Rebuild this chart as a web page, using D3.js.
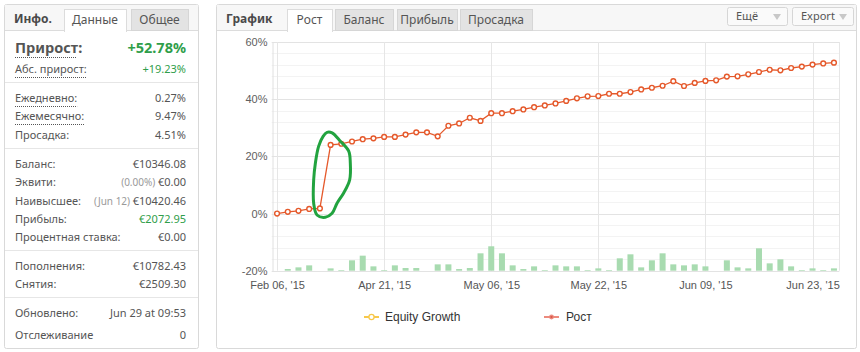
<!DOCTYPE html>
<html>
<head>
<meta charset="utf-8">
<script src="https://cdn.jsdelivr.net/npm/d3@7"></script>
<style>
  body { margin: 0; background: #fff; }
  svg { display: block; }
</style>
</head>
<body>
<div id="chart"></div>
<script>
// info panel rows
var infoLabels = ["Абс. прирост:", "Ежедневно:", "Ежемесячно:", "Просадка:", "Баланс:", "Эквити:",
  "Наивысшее:", "Прибыль:", "Процентная ставка:", "Пополнения:", "Снятия:", "Обновлено:", "Отслеживание"]
var infoNotes = ["", "", "", "", "", "(0.00%) ", "(Jun 12) ", "", "", "", "", "", ""]
var infoValues = ["+19.23%", "0.27%", "9.47%", "4.51%", "€10346.08", "€0.00",
  "€10420.46", "€2072.95", "€0.00", "€10782.43", "€2509.30", "Jun 29 at 09:53", "0"]

// chart series (one point per category, x axis is by index)
var growth = [0, 0.6, 0.95, 1.6, 1.8, 24.0, 24.4, 25.2, 26.0, 26.3,
  26.8, 26.8, 27.6, 28.4, 28.4, 27.0, 30.7, 31.5, 33.5, 32.4,
  35.1, 35.1, 35.8, 36.4, 37.2, 37.8, 38.5, 39.4, 40.3, 41.0,
  41.1, 41.9, 41.9, 42.5, 43.4, 44.0, 44.7, 46.3, 44.6, 45.7,
  46.4, 46.6, 47.9, 48.0, 48.7, 49.5, 50.3, 50.1, 50.9, 51.4,
  52.1, 52.5, 52.78]
var daily = [0, 0.59, 1.17, 1.87, 0, 0.82, 0.23, 3.63, 5.26, 1.52,
  0.23, 1.87, 0.94, 0.94, 0, 2.22, 2.22, 0.58, 0.94, 6.08,
  8.54, 6.08, 1.87, 0.58, 1.52, 0.23, 1.87, 1.52, 1.52, 0.23,
  0.82, 0.23, 4.33, 5.73, 1.17, 3.63, 6.08, 2.22, 1.87, 2.22,
  1.52, 0, 3.63, 1.17, 0.82, 7.84, 2.57, 3.98, 1.52, 0.23,
  0.82, 0.23, 0.82]
var tickIndex = [0, 10, 20, 30, 40, 50]
var tickText = ["Feb 06, '15", "Apr 21, '15", "May 06, '15", "May 22, '15", "Jun 09, '15", "Jun 23, '15"]
var yTicks = [-20, 0, 20, 40, 60]

// hand drawn highlight loop, in chart units (index, %)
var loopX = [4.67, 5.14, 5.91, 6.69, 6.84, 6.78, 6.22, 5.60, 5.14, 4.51, 3.73, 3.42, 3.42, 3.58, 3.88, 4.30]
var loopY = [28.4, 28.2, 25.3, 21.8, 17.7, 11.8, 7.2, 3.6, 0.1, -1.3, -0.5, 3.6, 11.8, 17.7, 23.5, 27.0]

var W = 860, H = 352
var uiFont = "'Noto Sans', sans-serif"
var chartFont = "'Liberation Sans', Arial, sans-serif"

var svg = d3.select("#chart").append("svg")
  .attr("width", W).attr("height", H)

// ---------- panels ----------
function panel(x, w, title, tabs, tabX, tabW) {
  var g = svg.append("g")
  g.append("rect").attr("x", x + 0.5).attr("y", 4.5).attr("width", w).attr("height", 344)
    .attr("fill", "#fff").attr("stroke", "#d9d9d9").attr("rx", 2)
  g.append("rect").attr("x", x + 1).attr("y", 5).attr("width", w - 1).attr("height", 25)
    .attr("fill", "#f7f7f7")
  g.append("line").attr("x1", x + 1).attr("x2", x + w).attr("y1", 30.5).attr("y2", 30.5)
    .attr("stroke", "#dcdcdc")
  g.append("text").attr("x", x + 10).attr("y", 23).text(title)
    .attr("font-family", uiFont).attr("font-size", 12).attr("font-weight", "bold").attr("fill", "#4a4a4a")
  tabs.forEach(function (t, i) {
    var active = i == 0
    g.append("rect").attr("x", tabX[i] + 0.5).attr("y", 9.5).attr("width", tabW[i]).attr("height", active ? 22 : 21)
      .attr("fill", active ? "#fff" : "#e3e3e3").attr("stroke", active ? "#dcdcdc" : "#d6d6d6")
    g.append("text").attr("x", tabX[i] + tabW[i] / 2).attr("y", 24).text(t)
      .attr("text-anchor", "middle").attr("font-family", uiFont).attr("font-size", 12).attr("fill", "#555")
  })
  // hide the border below the active tab
  g.append("rect").attr("x", tabX[0] + 1).attr("y", 30).attr("width", tabW[0] - 1).attr("height", 2).attr("fill", "#fff")
  return g
}

var left = panel(4, 194, "Инфо.", ["Данные", "Общее"], [64, 131], [62, 57])
var right = panel(216, 640, "График", ["Рост", "Баланс", "Прибыль", "Просадка"], [287, 335, 397, 460], [45, 58, 60, 72])

// buttons
var buttons = ["Ещё", "Export"], btnX = [727, 792], btnW = [60, 61]
buttons.forEach(function (b, i) {
  right.append("rect").attr("x", btnX[i] + 0.5).attr("y", 7.5).attr("width", btnW[i]).attr("height", 18)
    .attr("fill", "#fafafa").attr("stroke", "#d6d6d6").attr("rx", 2)
  right.append("text").attr("x", btnX[i] + 9).attr("y", 20).text(b)
    .attr("font-family", uiFont).attr("font-size", 11).attr("fill", "#555")
  var ax = btnX[i] + btnW[i] - 14
  right.append("path").attr("d", "M" + ax + ",14L" + (ax + 8) + ",14L" + (ax + 4) + ",20Z").attr("fill", "#c8c8c8")
})

// ---------- info rows ----------
left.append("text").attr("x", 15).attr("y", 53).text("Прирост:")
  .attr("font-family", uiFont).attr("font-size", 14.5).attr("font-weight", "bold").attr("fill", "#555")
left.append("text").attr("x", 186).attr("y", 53).text("+52.78%").attr("text-anchor", "end")
  .attr("font-family", uiFont).attr("font-size", 14.5).attr("font-weight", "bold").attr("fill", "#2f9e4a")
left.append("line").attr("x1", 15).attr("x2", 76).attr("y1", 57.5).attr("y2", 57.5)
  .attr("stroke", "#555").attr("stroke-dasharray", "1,1")

var rowY = [73, 102, 120, 139, 168, 186, 205, 223, 241, 270, 288, 317, 339]
var greenRows = [0, 7]
var dotted = [0, 1, 2]
infoLabels.forEach(function (l, i) {
  var t = left.append("text").attr("x", 15).attr("y", rowY[i]).text(l)
    .attr("font-family", uiFont).attr("font-size", 11).attr("fill", "#555")
  if (dotted.indexOf(i) >= 0) {
    var w = t.node().getComputedTextLength()
    left.append("line").attr("x1", 15).attr("x2", 15 + w).attr("y1", rowY[i] + 4.5).attr("y2", rowY[i] + 4.5)
      .attr("stroke", "#555").attr("stroke-dasharray", "1,1")
  }
  var v = left.append("text").attr("x", 186).attr("y", rowY[i]).attr("text-anchor", "end")
    .attr("font-family", uiFont).attr("font-size", 11)
  if (infoNotes[i]) v.append("tspan").attr("fill", "#999").attr("font-size", 10).text(infoNotes[i])
  v.append("tspan").attr("fill", greenRows.indexOf(i) >= 0 ? "#2f9e4a" : "#555").text(infoValues[i])
})
var sepY = [82, 148, 250, 297]
sepY.forEach(function (y) {
  left.append("line").attr("x1", 5).attr("x2", 198).attr("y1", y + 0.5).attr("y2", y + 0.5).attr("stroke", "#e6e6e6")
})

// ---------- chart ----------
var plot = {left: 271.7, right: 839.3, top: 42, bottom: 270.7}
var n = growth.length

var x = d3.scaleLinear().domain([-0.5, n - 0.5]).range([plot.left, plot.right])
var y = d3.scaleLinear().domain([-20, 60]).range([plot.bottom, plot.top])

var g = svg.append("g")

// minor grid
g.append("g").selectAll("line").data(d3.range(-20, 61, 4))
  .join("line")
  .attr("x1", plot.left).attr("x2", plot.right)
  .attr("y1", d => Math.round(y(d)) + 0.5).attr("y2", d => Math.round(y(d)) + 0.5)
  .attr("stroke", d => d % 20 == 0 ? "#e3e3e3" : "#f3f3f3")

// vertical grid
g.append("g").selectAll("line").data(tickIndex)
  .join("line")
  .attr("x1", d => Math.round(x(d)) + 0.5).attr("x2", d => Math.round(x(d)) + 0.5)
  .attr("y1", plot.top).attr("y2", plot.bottom)
  .attr("stroke", "#e6e6e6")
g.append("line").attr("x1", Math.round(plot.right) + 0.5).attr("x2", Math.round(plot.right) + 0.5)
  .attr("y1", plot.top).attr("y2", plot.bottom).attr("stroke", "#e6e6e6")

// y axis
var yAxis = g.append("g")
  .attr("transform", "translate(" + (Math.round(plot.left) + 0.5) + ",0)")
  .call(d3.axisLeft(y).tickValues(yTicks).tickSize(0).tickPadding(5).tickFormat(d => d + "%"))
yAxis.select(".domain").attr("stroke", "#e0e0e0")
yAxis.selectAll("text").attr("font-family", chartFont).attr("font-size", 11).attr("fill", "#606060")

// x axis
var xAxis = g.append("g")
  .attr("transform", "translate(0," + plot.bottom + ")")
  .call(d3.axisBottom(x).tickValues(tickIndex).tickSize(0).tickPadding(11)
    .tickFormat((d, i) => tickText[i]))
xAxis.select(".domain").remove()
xAxis.selectAll("text").attr("font-family", chartFont).attr("font-size", 11).attr("fill", "#555")

// daily bars
var barW = 6
g.append("g").selectAll("rect").data(daily)
  .join("rect")
  .attr("x", (d, i) => x(i) - barW / 2)
  .attr("y", d => y(-20 + d))
  .attr("width", barW)
  .attr("height", d => y(-20) - y(-20 + d))
  .attr("fill", "#a8dbb0")

// growth line
var line = d3.line()
  .x((d, i) => x(i))
  .y(d => y(d))
g.append("path").datum(growth)
  .attr("d", line)
  .attr("fill", "none")
  .attr("stroke", "#e5592b")
  .attr("stroke-width", 1.3)
g.append("g").selectAll("circle").data(growth)
  .join("circle")
  .attr("cx", (d, i) => x(i))
  .attr("cy", d => y(d))
  .attr("r", 2.4)
  .attr("fill", "#fff")
  .attr("stroke", "#e5592b")
  .attr("stroke-width", 1.4)

// highlight loop
var loop = d3.line().curve(d3.curveCatmullRomClosed)
  .x(d => x(d[0])).y(d => y(d[1]))
g.append("path").datum(loopX.map((v, i) => [v, loopY[i]]))
  .attr("d", loop)
  .attr("fill", "none")
  .attr("stroke", "#22a33f")
  .attr("stroke-width", 3)

// legend
var legend = [
  {name: "Equity Growth", color: "#f7c84a", lx: 364, tx: 385, hollow: true},
  {name: "Рост", color: "#ec8a7d", lx: 544, tx: 566, hollow: false}
]
var lg = svg.append("g")
legend.forEach(function (l) {
  lg.append("line").attr("x1", l.lx).attr("x2", l.lx + 15).attr("y1", 317).attr("y2", 317)
    .attr("stroke", l.color).attr("stroke-width", 2)
  lg.append("circle").attr("cx", l.lx + 7.5).attr("cy", 317).attr("r", l.hollow ? 2.6 : 1.8)
    .attr("fill", l.hollow ? "#fff" : "#d9584a").attr("stroke", l.color).attr("stroke-width", 1.3)
  lg.append("text").attr("x", l.tx).attr("y", 321).text(l.name)
    .attr("font-family", chartFont).attr("font-size", 12).attr("fill", "#333")
})
</script>
</body>
</html>
